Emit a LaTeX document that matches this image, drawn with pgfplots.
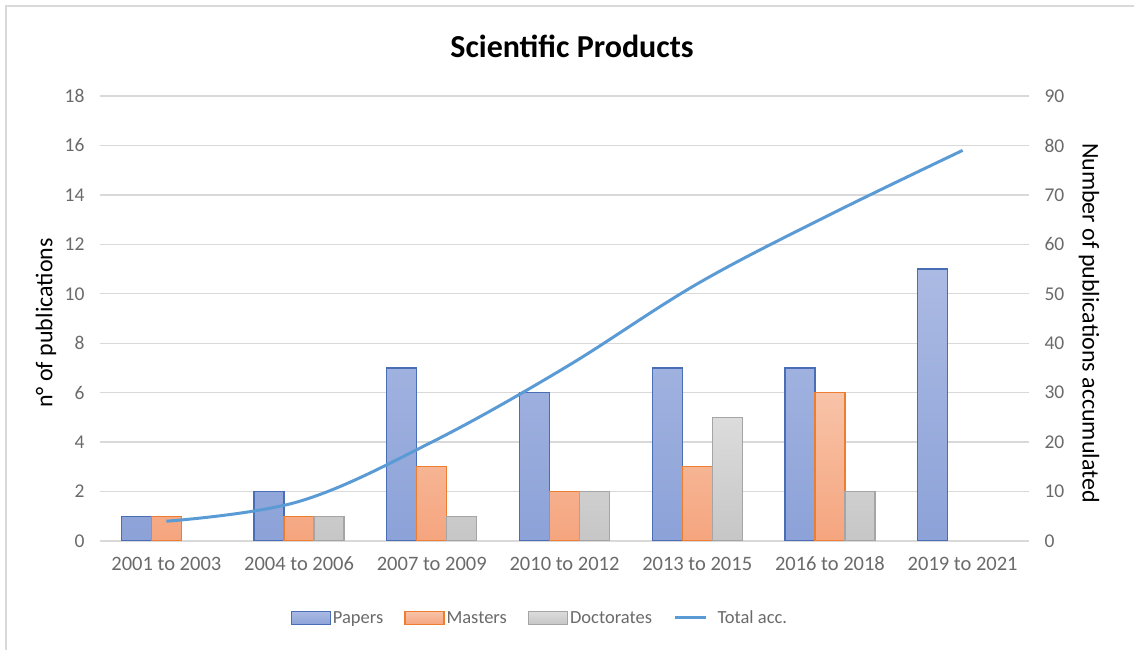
\documentclass[border=0pt]{standalone}
\usepackage{pgfplots}
\pgfplotsset{compat=1.18}
\usepackage{fontspec}
\setmainfont{Carlito}
\definecolor{gridc}{HTML}{D9D9D9}
\definecolor{framec}{HTML}{D9D9D9}
\definecolor{tickc}{HTML}{6A6A6A}
\definecolor{papE}{HTML}{4A6EB5}
\definecolor{papT}{HTML}{ABBAE3}
\definecolor{papB}{HTML}{8CA2D8}
\definecolor{masE}{HTML}{ED7D31}
\definecolor{masT}{HTML}{F8C3A8}
\definecolor{masB}{HTML}{F5A57E}
\definecolor{docE}{HTML}{A5A5A5}
\definecolor{docT}{HTML}{DCDCDC}
\definecolor{docB}{HTML}{C6C6C6}
\definecolor{lineC}{HTML}{5B9BD5}
\begin{document}
\begin{tikzpicture}
\begin{axis}[
  name=main,
  scale only axis, width=929bp, height=445bp,
  xmin=-0.5, xmax=6.5, ymin=0, ymax=18,
  ytick={0,2,...,18},
  xtick={0,...,6},
  xticklabels={2001 to 2003,2004 to 2006,2007 to 2009,2010 to 2012,2013 to 2015,2016 to 2018,2019 to 2021},
  /pgf/number format/assume math mode=true,
  ybar=0pt, bar width=30bp,
  axis line style={draw=none},
  tick style={draw=none},
  ymajorgrids, grid style={gridc, line width=1.3bp},
  yticklabel style={font=\fontsize{19.5bp}{22bp}\selectfont, text=tickc, xshift=-12bp},
  xticklabel style={font=\fontsize{20.5bp}{23bp}\selectfont, text=tickc, yshift=-8bp},
  legend style={at={(0.4735,-0.173)}, anchor=center, draw=none, fill=none,
    font=\fontsize{18.5bp}{21bp}\selectfont, text=tickc,
    /tikz/every even column/.append style={column sep=19bp}},
  legend columns=4,
  legend image code/.code={\draw[#1] (0bp,-6.5bp) rectangle (39bp,6.5bp);},
]
\addplot[draw=papE, line width=1.3bp, top color=papT, bottom color=papB]
  coordinates {(0,1) (1,2) (2,7) (3,6) (4,7) (5,7) (6,11)};
\addlegendentry{Papers}
\addplot[draw=masE, line width=1.3bp, top color=masT, bottom color=masB]
  coordinates {(0,1) (1,1) (2,3) (3,2) (4,3) (5,6)};
\addlegendentry{Masters}
\addplot[draw=docE, line width=1.3bp, top color=docT, bottom color=docB]
  coordinates {(1,1) (2,1) (3,2) (4,5) (5,2)};
\addlegendentry{Doctorates}
\addlegendimage{legend image code/.code={\draw[lineC, line width=3bp] (0bp,0bp) -- (31bp,0bp); \path[draw=none, fill=none] (0bp,-1bp) rectangle (41bp,1bp);}}
\addlegendentry{Total acc.}
\end{axis}
\begin{axis}[
  scale only axis, width=929bp, height=445bp,
  xmin=-0.5, xmax=6.5, ymin=0, ymax=90,
  ytick={0,10,...,90},
  /pgf/number format/assume math mode=true,
  axis y line*=right, hide x axis,
  axis line style={draw=none},
  tick style={draw=none},
  yticklabel style={font=\fontsize{19.5bp}{22bp}\selectfont, text=tickc, xshift=12bp},
]
\addplot[smooth, tension=0.6, color=lineC, line width=3bp]
  coordinates {(0,4) (1,8) (2,20) (3,35) (4,52) (5,66) (6,79)};
\end{axis}
\pgfresetboundingbox
\begin{scope}[shift={(main.south west)}, x=1bp, y=1bp]
\useasboundingbox (-100,-109) rectangle (1034,541);
\draw[framec, line width=1.5bp] (-94,-109) -- (-94,535) -- (1034,535);
\node[font=\fontsize{32bp}{36bp}\selectfont\bfseries] at (472,495) {Scientific Products};
\node[rotate=90, font=\fontsize{24bp}{28bp}\selectfont] at (-54,218) {n° of publications};
\node[rotate=-90, font=\fontsize{24bp}{28bp}\selectfont] at (989,218) {Number of publications accumulated};
\end{scope}
\end{tikzpicture}
\end{document}
